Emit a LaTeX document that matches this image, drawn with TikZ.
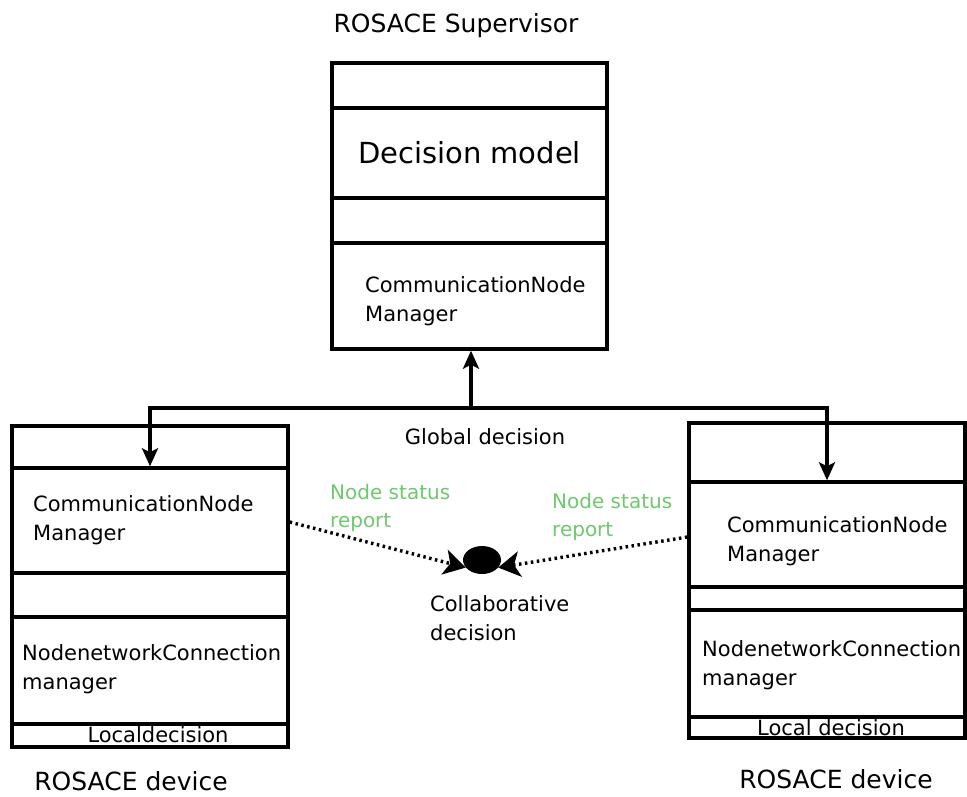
\documentclass[tikz,border=0pt]{standalone}
\usepackage{fontspec}
\setmainfont{DejaVu Sans}
\usetikzlibrary{arrows.meta,shapes.geometric}
\definecolor{lblgreen}{RGB}{110,200,110}
\begin{document}
\begin{tikzpicture}[x=1pt,y=-1pt,
  comp/.style={draw,line width=3.4pt,inner sep=0pt,font=\fontsize{21}{29}\selectfont},
  txtl/.style={align=left,anchor=west,inner sep=0pt,font=\fontsize{21}{29}\selectfont},
  conn/.style={line width=3.4pt},
  tip/.style={-{Stealth[length=18pt,width=16pt,inset=4pt]}},
  dotconn/.style={line width=3.4pt,dash pattern=on 2.5pt off 3.5pt,-{Stealth[length=22pt,width=26pt,inset=6pt,line width=0pt]}},
  lbl/.style={inner sep=0pt,font=\fontsize{21}{29}\selectfont},
  big/.style={inner sep=0pt,font=\fontsize{25}{29}\selectfont},
  grn/.style={align=left,anchor=west,inner sep=0pt,text=lblgreen,font=\fontsize{20}{28}\selectfont}]
\useasboundingbox (0,0) rectangle (967,796);
% Supervisor
\node[big] (suptitle) at (456,26) {ROSACE Supervisor};
\node[comp,minimum width=275pt,minimum height=45pt] (sup1) at (469.5,85.5) {};
\node[comp,minimum width=275pt,minimum height=90pt,font=\fontsize{29}{32}\selectfont] (sup2) at (469.5,153) {Decision model};
\node[comp,minimum width=275pt,minimum height=45pt] (sup3) at (469.5,220.5) {};
\node[comp,minimum width=275pt,minimum height=106pt] (sup4) at (469.5,296) {};
\node[txtl] (sup4t) at (365,301) {CommunicationNode\\Manager};
% Left device
\node[comp,minimum width=276pt,minimum height=42pt] (l1) at (150,447) {};
\node[comp,minimum width=276pt,minimum height=105pt] (l2) at (150,520.5) {};
\node[txtl] (l2t) at (33,520) {CommunicationNode\\Manager};
\node[comp,minimum width=276pt,minimum height=44pt] (l3) at (150,595) {};
\node[comp,minimum width=276pt,minimum height=107pt] (l4) at (150,670.5) {};
\node[txtl] (l4t) at (22,669) {NodenetworkConnection\\manager};
\node[comp,minimum width=276pt,minimum height=23pt] (l5) at (150,735.5) {};
\node[lbl] (l5t) at (158,735) {Localdecision};
\node[big] (ldev) at (131,781) {ROSACE device};
% Right device
\node[comp,minimum width=276pt,minimum height=59pt] (r1) at (827,452.5) {};
\node[comp,minimum width=276pt,minimum height=105pt] (r2) at (827,534.5) {};
\node[txtl] (r2t) at (727,541) {CommunicationNode\\Manager};
\node[comp,minimum width=276pt,minimum height=23pt] (r3) at (827,598.5) {};
\node[comp,minimum width=276pt,minimum height=107pt] (r4) at (827,663.5) {};
\node[txtl] (r4t) at (702,665) {NodenetworkConnection\\manager};
\node[comp,minimum width=276pt,minimum height=21pt] (r5) at (827,727.5) {};
\node[lbl] (r5t) at (831,728) {Local decision};
\node[big] (rdev) at (836,779) {ROSACE device};
% Global decision connectors
\coordinate (bus) at (471,408);
\draw[conn,tip] (bus) -- (bus |- sup4.south);
\draw[conn,tip] (bus) -| (l2.north);
\draw[conn,tip] (bus) -| (r2.north);
\node[lbl] (gd) at (485,437) {Global decision};
% Collaborative decision
\node[ellipse,fill=black,minimum width=38pt,minimum height=28pt,inner sep=0pt] (blob) at (482,560) {};
\node[lbl,align=left,anchor=west] (collab) at (430,618) {Collaborative\\decision};
\draw[dotconn] (l2.east |- 0,522) -- (blob.205);
\draw[dotconn] (r2.west |- 0,537) -- (blob.-25);
\node[grn] (nsl) at (330,508) {Node status\\report};
\node[grn] (nsr) at (552,517) {Node status\\report};
\end{tikzpicture}
\end{document}
